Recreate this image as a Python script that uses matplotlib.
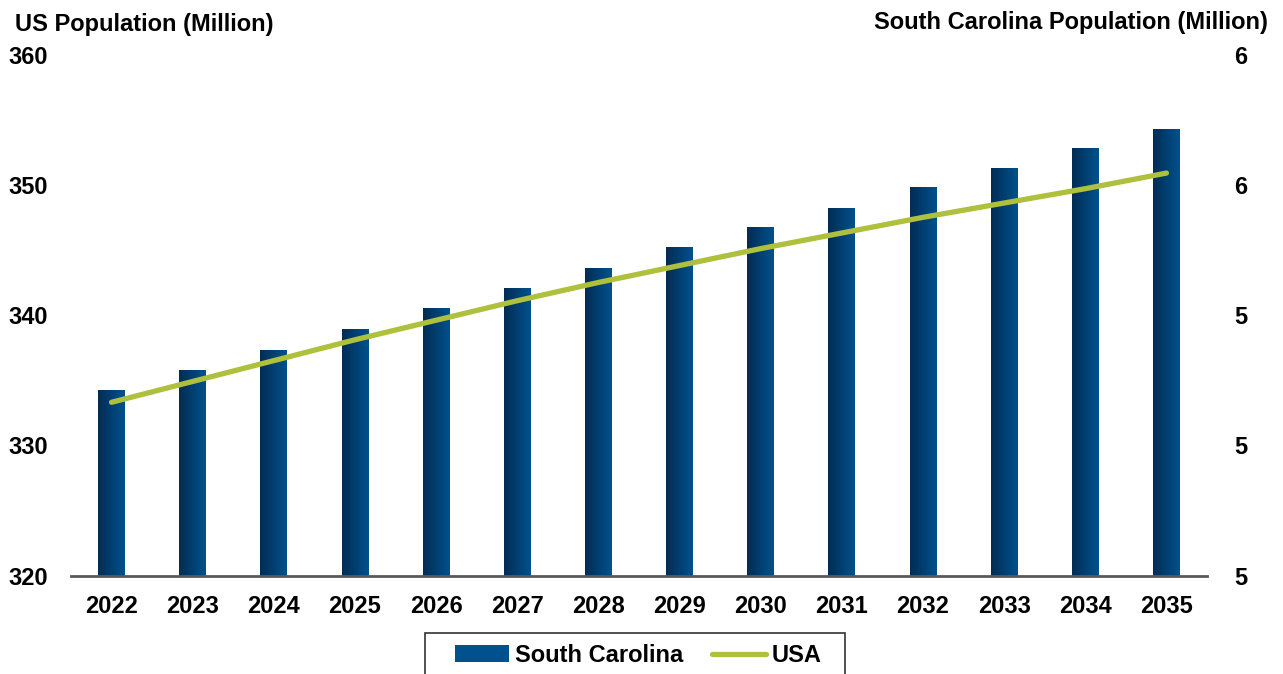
import numpy as np
import matplotlib.pyplot as plt
from matplotlib.colors import LinearSegmentedColormap
from matplotlib.patches import Rectangle

plt.rcParams['font.family'] = ['Liberation Sans', 'DejaVu Sans']
plt.rcParams['font.weight'] = 'bold'

years = ['2022', '2023', '2024', '2025', '2026', '2027', '2028',
         '2029', '2030', '2031', '2032', '2033', '2034', '2035']
sc_pop = [5.285, 5.315, 5.347, 5.378, 5.410, 5.441, 5.472,
          5.504, 5.535, 5.565, 5.596, 5.625, 5.656, 5.686]
us_pop = [333.3, 334.9, 336.5, 338.1, 339.6, 341.1, 342.5,
          343.8, 345.1, 346.3, 347.5, 348.6, 349.7, 350.9]

us_ticks = [320, 330, 340, 350, 360]
sc_ticks = [5.0, 5.2, 5.4, 5.6, 5.8]

bar_dark = '#022d54'
bar_light = '#00518d'
line_color = '#afc03c'

fig = plt.figure(figsize=(12.83, 6.74), dpi=100)
ax = fig.add_axes([0.0553, 0.1461, 0.8855, 0.773])
ax2 = ax.twinx()

x = np.arange(len(years))

# bars on the right axis, filled with a left-to-right gradient
bars = ax2.bar(x, sc_pop, width=0.33, color=bar_light, label='South Carolina')
cmap = LinearSegmentedColormap.from_list('bar_grad', [bar_dark, bar_light])
grad = np.linspace(0, 1, 256).reshape(1, -1)
for b in bars:
    x0, w, h = b.get_x(), b.get_width(), b.get_height()
    ax2.imshow(grad, extent=[x0, x0 + w, 0, h], aspect='auto', cmap=cmap,
               interpolation='bicubic', zorder=2)

# US line on the left axis, drawn above the bars
line, = ax.plot(x, us_pop, color=line_color, linewidth=3.8,
                solid_capstyle='round', label='USA', zorder=3)
ax.set_zorder(ax2.get_zorder() + 1)
ax.patch.set_visible(False)

ax.set_xlim(-0.5, len(years) - 0.5)
ax.set_ylim(320, 360)
ax2.set_ylim(5.0, 5.8)
ax.set_yticks(us_ticks)
ax2.set_yticks(sc_ticks)
ax2.set_yticklabels(['%.0f' % v for v in sc_ticks])
ax.set_xticks(x)
ax.set_xticklabels(years)

for a in (ax, ax2):
    for s in ('top', 'left', 'right', 'bottom'):
        a.spines[s].set_visible(False)
ax.spines['bottom'].set_visible(True)
ax.spines['bottom'].set_color('#595959')
ax.spines['bottom'].set_linewidth(2)

ax.tick_params(axis='x', length=0, pad=14, labelsize=17)
ax.tick_params(axis='y', length=0, pad=16.5, labelsize=17)
ax2.tick_params(axis='y', length=0, pad=19.5, labelsize=17)

fig.text(15 / 1283, 1 - 24 / 674, 'US Population (Million)', fontsize=17,
         fontweight='bold', ha='left', va='center')
fig.text(1268 / 1283, 1 - 22 / 674, 'South Carolina Population (Million)',
         fontsize=17, fontweight='bold', ha='right', va='center')

# legend frame runs past the bottom edge of the figure
fig.patches.append(Rectangle((425 / 1283, -0.05), 420 / 1283, 0.05 + 41 / 674,
                             transform=fig.transFigure, facecolor='white',
                             edgecolor='#333333', linewidth=1.2))
fig.legend([bars, line], ['South Carolina', 'USA'], ncol=2, frameon=False,
           loc='center left', bbox_to_anchor=(455 / 1283, 1 - 655.5 / 674),
           bbox_transform=fig.transFigure, borderpad=0, borderaxespad=0,
           handlelength=2.3, handletextpad=0.25, columnspacing=1.2,
           prop={'size': 17, 'weight': 'bold'})

fig.savefig('out.png', dpi=100)
